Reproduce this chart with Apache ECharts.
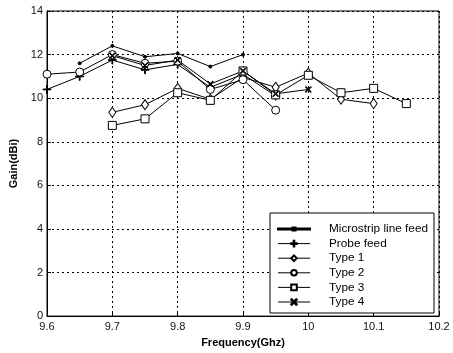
<!DOCTYPE html>
<html><head><meta charset="utf-8">
<script src="https://cdn.jsdelivr.net/npm/echarts@6/dist/echarts.min.js"></script>
<style>html,body{margin:0;padding:0;background:#fff}#c{width:453px;height:353px}</style>
</head><body><div id="c"></div>
<script>
const seriesNames = ['Microstrip line feed','Probe feed','Type 1','Type 2','Type 3','Type 4'];
const microFreq = [9.65, 9.7, 9.75, 9.8, 9.85, 9.9];
const microGain = [11.6, 12.4, 11.9, 12.05, 11.45, 12.0];
const probeFreq = [9.6, 9.65, 9.7, 9.75, 9.8, 9.85, 9.9, 9.95];
const probeGain = [10.4, 11.0, 11.75, 11.3, 11.55, 10.5, 11.1, 10.1];
const type1Freq = [9.7, 9.75, 9.8, 9.85, 9.9, 9.95, 10.0, 10.05, 10.1];
const type1Gain = [9.35, 9.7, 10.45, 9.95, 10.95, 10.5, 11.15, 9.95, 9.75];
const type2Freq = [9.6, 9.65, 9.7, 9.75, 9.8, 9.85, 9.9, 9.95];
const type2Gain = [11.1, 11.2, 12.0, 11.6, 11.7, 10.4, 10.85, 9.45];
const type3Freq = [9.7, 9.75, 9.8, 9.85, 9.9, 9.95, 10.0, 10.05, 10.1, 10.15];
const type3Gain = [8.75, 9.05, 10.25, 9.9, 11.25, 10.15, 11.05, 10.25, 10.45, 9.75];
const type4Freq = [9.7, 9.75, 9.8, 9.85, 9.9, 9.95, 10.0];
const type4Gain = [11.95, 11.5, 11.75, 10.65, 11.25, 10.2, 10.4];
const xTicks = [9.6, 9.7, 9.8, 9.9, 10.0, 10.1, 10.2];
const yTicks = [0, 2, 4, 6, 8, 10, 12, 14];

const pairs = (f, g) => f.map((x, i) => [x, g[i]]);
const plusPath = 'path://M4.5,0h1v4.5h4.5v1h-4.5v4.5h-1v-4.5h-4.5v-1h4.5z';
const xPath = 'path://M1,0L5,4L9,0L10,1L6,5L10,9L9,10L5,6L1,10L0,9L4,5L0,1z';
const dotLineIcon = 'path://M0,1H32V2H0Z M14.5,0H17.5V3H14.5Z';

const font = 'Liberation Sans, Arial, sans-serif';
function mk(name, data, symbol, size, fill) {
  return {
    name, type: 'line', data, symbol, symbolSize: size,
    showSymbol: true, animation: false,
    lineStyle: { color: '#000', width: 1 },
    itemStyle: { color: fill, borderColor: '#000', borderWidth: 1 }
  };
}
const chart = echarts.init(document.getElementById('c'));
chart.setOption({
  backgroundColor: '#fff',
  animation: false,
  grid: { left: 47, top: 11, width: 392, height: 309, show: true, borderColor: '#000', borderWidth: 1 },
  xAxis: {
    type: 'value', min: xTicks[0], max: xTicks[xTicks.length - 1], interval: 0.1,
    name: 'Frequency(Ghz)', nameLocation: 'middle', nameGap: 19,
    nameTextStyle: { fontFamily: font, fontWeight: 'bold', fontSize: 11, color: '#000' },
    axisLine: { lineStyle: { color: '#000' } },
    axisTick: { inside: true, length: 4, lineStyle: { color: '#000' } },
    axisLabel: { fontFamily: font, fontSize: 11, color: '#111', margin: 5,
      formatter: v => { const r = Math.round(v * 10) / 10; return String(r); } },
    splitLine: { show: true, lineStyle: { color: '#000', type: [2, 3], width: 1 } }
  },
  yAxis: {
    type: 'value', min: yTicks[0], max: yTicks[yTicks.length - 1], interval: 2,
    name: 'Gain(dBi)', nameLocation: 'middle', nameGap: 19,
    nameTextStyle: { fontFamily: font, fontWeight: 'bold', fontSize: 11, color: '#000' },
    axisLine: { show: true, lineStyle: { color: '#000' } },
    axisTick: { show: true, inside: true, length: 4, lineStyle: { color: '#000' } },
    axisLabel: { fontFamily: font, fontSize: 11, color: '#111', margin: 4 },
    splitLine: { show: true, lineStyle: { color: '#000', type: [2, 3], width: 1 } }
  },
  legend: {
    orient: 'vertical', left: 270, top: 213,
    padding: [10, 6, 5, 7],
    itemWidth: 32, itemHeight: 7, itemGap: 2.6,
    lineStyle: { width: 1 },
    backgroundColor: '#fff', borderColor: '#000', borderWidth: 1,
    textStyle: { fontFamily: font, fontSize: 11.8, color: '#000', lineHeight: 12, padding: [0, 0, 0, 14] },
    data: seriesNames.map((n, i) => i === 0 ? { name: n, icon: dotLineIcon } : n)
  },
  series: [
    mk(seriesNames[0], pairs(microFreq, microGain), 'circle', 3, '#000'),
    mk(seriesNames[1], pairs(probeFreq, probeGain), plusPath, 8, '#000'),
    mk(seriesNames[2], pairs(type1Freq, type1Gain), 'diamond', [7, 10], '#fff'),
    mk(seriesNames[3], pairs(type2Freq, type2Gain), 'circle', 8, '#fff'),
    mk(seriesNames[4], pairs(type3Freq, type3Gain), 'rect', 8, '#fff'),
    mk(seriesNames[5], pairs(type4Freq, type4Gain), xPath, 6, '#000')
  ]
});
</script></body></html>
